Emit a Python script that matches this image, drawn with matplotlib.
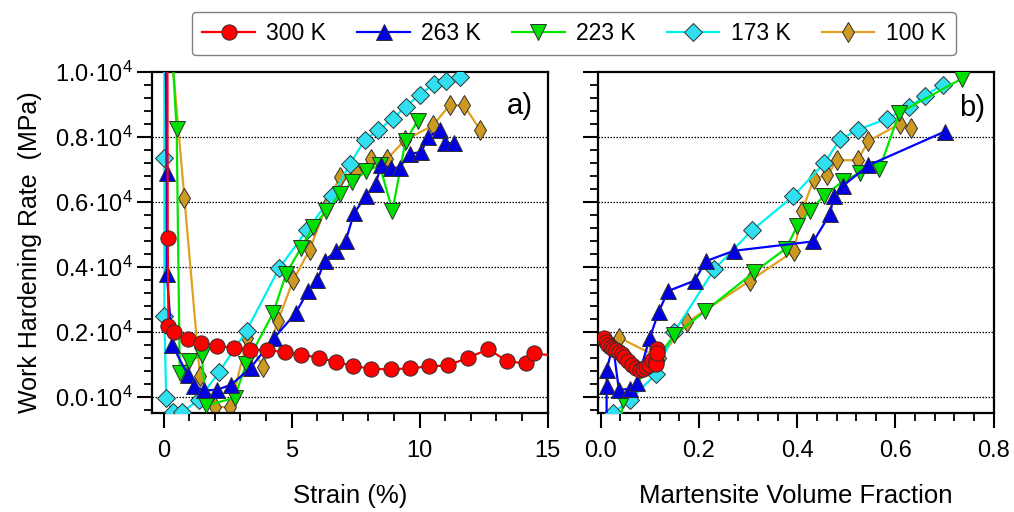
import matplotlib
matplotlib.use("Agg")
import matplotlib.pyplot as plt
from matplotlib.ticker import MultipleLocator, FuncFormatter

plt.rcParams['font.family'] = ['Liberation Sans', 'DejaVu Sans']
plt.rcParams['mathtext.fontset'] = 'custom'
plt.rcParams['mathtext.rm'] = 'Liberation Sans'
plt.rcParams['mathtext.it'] = 'Liberation Sans'

# Work hardening rate in units of 10^4 MPa
# (a) versus engineering strain (%)
strain_300 = [0.14, 0.16, 0.19, 0.41, 0.94, 1.46, 2.08, 2.74, 3.36, 4.03, 4.74, 5.37, 6.07, 6.72, 7.40,
              8.12, 8.87, 9.61, 10.36, 11.10, 11.91, 12.69, 13.42, 14.16, 14.46, 15.5]
whr_300 = [1.5, 0.49, 0.218, 0.200, 0.177, 0.166, 0.158, 0.151, 0.146, 0.144, 0.138, 0.130, 0.121, 0.108,
           0.095, 0.087, 0.085, 0.088, 0.094, 0.097, 0.121, 0.147, 0.110, 0.103, 0.134, 0.125]

strain_263 = [0.06, 0.12, 0.12, 0.34, 0.94, 1.20, 1.58, 2.08, 2.65, 3.40, 4.30, 5.16, 5.63, 6.0, 6.30,
              6.74, 7.11, 7.44, 7.92, 8.28, 8.50, 8.90, 9.22, 9.61, 10.07, 10.32, 10.78, 11.01, 11.36]
whr_263 = [1.3, 0.69, 0.38, 0.159, 0.069, 0.034, 0.020, 0.022, 0.038, 0.090, 0.180, 0.258, 0.325, 0.359,
           0.420, 0.450, 0.480, 0.566, 0.620, 0.657, 0.713, 0.706, 0.706, 0.749, 0.754, 0.800, 0.821,
           0.782, 0.782]

strain_223 = [0.16, 0.51, 0.63, 1.01, 1.48, 1.67, 2.77, 3.22, 4.28, 4.79, 5.36, 5.84, 6.36, 6.88, 7.37,
              7.90, 8.44, 8.94, 9.45, 9.93]
whr_223 = [1.3, 0.824, 0.075, 0.111, 0.128, -0.026, -0.003, 0.101, 0.259, 0.380, 0.458, 0.524, 0.574,
           0.624, 0.662, 0.695, 0.713, 0.574, 0.788, 0.851]

strain_173 = [0.02, 0.03, 0.03, 0.10, 0.35, 0.73, 1.38, 2.17, 3.24, 4.51, 5.60, 6.58, 7.29, 7.86, 8.38,
              8.96, 9.45, 10.00, 10.56, 11.04, 11.56]
whr_173 = [1.3, 0.737, 0.250, -0.002, -0.045, -0.047, -0.008, 0.077, 0.204, 0.396, 0.513, 0.618, 0.718,
           0.792, 0.821, 0.857, 0.894, 0.930, 0.964, 0.974, 0.985]

strain_100 = [0.16, 0.81, 1.42, 2.02, 2.61, 3.27, 3.88, 4.47, 5.07, 5.70, 6.34, 6.88, 7.53, 8.12, 8.73,
              9.42, 10.52, 11.17, 11.73, 12.38]
whr_100 = [1.2, 0.614, 0.063, -0.030, -0.032, 0.180, 0.091, 0.235, 0.361, 0.452, 0.585, 0.677, 0.692,
           0.733, 0.733, 0.790, 0.836, 0.898, 0.898, 0.821]

# (b) versus martensite volume fraction
fm_300 = [0.006, 0.010, 0.015, 0.020, 0.026, 0.031, 0.037, 0.043, 0.048, 0.056, 0.064, 0.072, 0.079,
          0.086, 0.093, 0.099, 0.104, 0.114, 0.112, 0.113, 0.115]
whrb_300 = [0.183, 0.170, 0.160, 0.153, 0.147, 0.144, 0.139, 0.132, 0.122, 0.110, 0.098, 0.088, 0.084,
            0.087, 0.093, 0.097, 0.113, 0.147, 0.110, 0.100, 0.135]

fm_263 = [0.012, 0.012, 0.012, 0.025, 0.037, 0.060, 0.073, 0.100, 0.118, 0.137, 0.191, 0.214, 0.271,
          0.433, 0.467, 0.474, 0.494, 0.545, 0.700]
whrb_263 = [-0.10, 0.033, 0.082, 0.160, 0.021, 0.026, 0.043, 0.183, 0.262, 0.326, 0.358, 0.418, 0.450,
            0.479, 0.564, 0.618, 0.651, 0.713, 0.817]

fm_223 = [0.038, 0.046, 0.150, 0.212, 0.312, 0.377, 0.400, 0.426, 0.455, 0.493, 0.528, 0.567, 0.608,
          0.735]
whrb_223 = [-0.10, -0.010, 0.190, 0.264, 0.384, 0.457, 0.526, 0.574, 0.620, 0.664, 0.691, 0.701, 0.875,
            0.980]

fm_173 = [0.026, 0.060, 0.112, 0.150, 0.231, 0.308, 0.392, 0.455, 0.487, 0.524, 0.583, 0.628, 0.660,
          0.697]
whrb_173 = [-0.048, -0.008, 0.070, 0.201, 0.393, 0.513, 0.618, 0.720, 0.793, 0.823, 0.857, 0.892, 0.928,
            0.962]

fm_100 = [0.037, 0.120, 0.176, 0.304, 0.394, 0.410, 0.434, 0.461, 0.481, 0.523, 0.545, 0.610, 0.631]
whrb_100 = [0.183, 0.120, 0.230, 0.358, 0.450, 0.573, 0.672, 0.682, 0.729, 0.729, 0.788, 0.842, 0.827]

labels = ['300 K', '263 K', '223 K', '173 K', '100 K']
line_colors = ['#ff0000', '#0000ff', '#00e600', '#00f0f0', '#e0a020']
face_colors = ['#ff0000', '#0000e0', '#00e000', '#30e0f0', '#cc9922']
markers = ['o', '^', 'v', 'D', 'd']
msizes = [11, 12, 12, 9, 10]
zorders = [6, 5, 4, 3, 2]

panel_a = [(strain_300, whr_300), (strain_263, whr_263), (strain_223, whr_223),
           (strain_173, whr_173), (strain_100, whr_100)]
panel_b = [(fm_300, whrb_300), (fm_263, whrb_263), (fm_223, whrb_223),
           (fm_173, whrb_173), (fm_100, whrb_100)]

fig = plt.figure(figsize=(10.14, 5.12), dpi=100)
ax1 = fig.add_axes([0.150, 0.193, 0.390, 0.666])
ax2 = fig.add_axes([0.590, 0.193, 0.390, 0.666])


def draw(ax, series):
    handles = []
    # draw back to front so 300 K sits on top
    for i in range(len(series) - 1, -1, -1):
        x, y = series[i]
        h, = ax.plot(x, y, color=line_colors[i], lw=1.6, marker=markers[i], ms=msizes[i],
                     mfc=face_colors[i], mec='#303030', mew=0.7, label=labels[i], zorder=zorders[i])
        handles.insert(0, h)
    return handles


handles = draw(ax1, panel_a)
draw(ax2, panel_b)

ytick_fmt = FuncFormatter(lambda v, p: '%.1f·10$^{4}$' % v)

for ax in (ax1, ax2):
    ax.set_ylim(-0.05, 1.0)
    ax.yaxis.set_major_locator(MultipleLocator(0.2))
    ax.yaxis.set_minor_locator(MultipleLocator(0.04))
    for g in [0.0, 0.2, 0.4, 0.6, 0.8]:
        ax.axhline(g, color='black', lw=0.9, ls=(0, (1.2, 1.2)), zorder=1)
    for s in ax.spines.values():
        s.set_linewidth(1.6)
    ax.tick_params(which='major', direction='out', length=11, width=1.5, labelsize=17)
    ax.tick_params(which='minor', direction='out', length=6, width=1.3)
    ax.tick_params(axis='x', pad=8)
    ax.tick_params(axis='y', pad=3)

ax1.set_xlim(-0.45, 15)
ax1.xaxis.set_major_locator(MultipleLocator(5))
ax1.xaxis.set_minor_locator(MultipleLocator(1))
ax1.yaxis.set_major_formatter(ytick_fmt)
ax1.set_xlabel('Strain (%)', fontsize=18.5, labelpad=16)
ax1.set_ylabel('Work Hardening Rate  (MPa)', fontsize=18)
ax1.yaxis.set_label_coords(-0.278, 0.472)
ax1.text(0.93, 0.90, 'a)', transform=ax1.transAxes, fontsize=21, ha='center', va='center')

ax2.set_xlim(-0.005, 0.8)
ax2.xaxis.set_major_locator(MultipleLocator(0.2))
ax2.xaxis.set_minor_locator(MultipleLocator(0.04))
ax2.xaxis.set_major_formatter(FuncFormatter(lambda v, p: '%.1f' % v))
ax2.tick_params(axis='y', labelleft=False)
ax2.set_xlabel('Martensite Volume Fraction', fontsize=18.5, labelpad=16)
ax2.text(0.945, 0.895, 'b)', transform=ax2.transAxes, fontsize=21, ha='center', va='center')

fig.legend(handles, labels, loc='upper center', bbox_to_anchor=(0.566, 0.977), ncol=5,
           fontsize=16.5, markerscale=1.0, handlelength=2.3, columnspacing=1.35, handletextpad=0.5,
           fancybox=True, edgecolor='#808080', framealpha=1, borderpad=0.45, borderaxespad=0)

fig.savefig('out.png', dpi=100)
